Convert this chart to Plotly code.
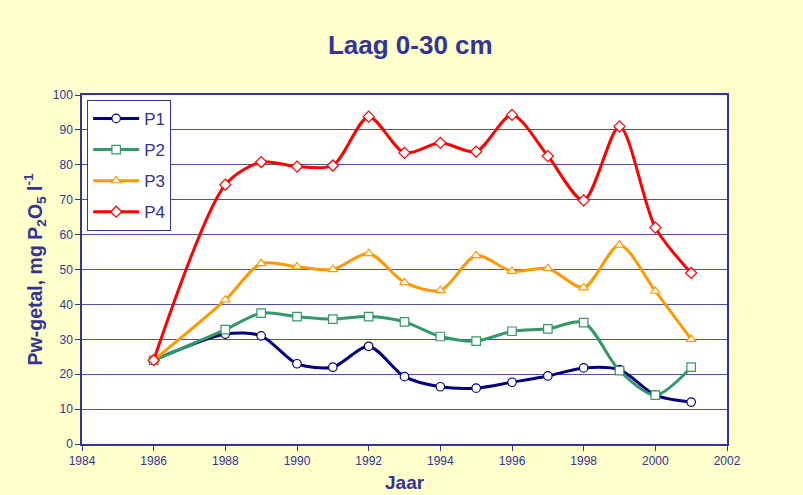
import plotly.graph_objects as go

years = [1986, 1988, 1989, 1990, 1991, 1992, 1993, 1994, 1995, 1996, 1997, 1998, 1999, 2000, 2001]
p1 = [24, 31.5, 31, 23, 22, 28, 19.3, 16.4, 16, 17.7, 19.5, 21.8, 21.3, 14, 12]
p2 = [24, 32.8, 37.5, 36.5, 35.8, 36.5, 35, 30.8, 29.5, 32.3, 33, 34.8, 21, 14, 22]
p3 = [24, 41.3, 51.7, 50.8, 50, 54.6, 46.3, 44, 54, 49.5, 50.3, 44.8, 57, 43.8, 30]
p4 = [24, 74.3, 80.8, 79.5, 79.8, 93.8, 83.4, 86.3, 83.8, 94.3, 82.5, 69.8, 91, 62, 49]

series = [
    ("P1", p1, "#000080", "circle"),
    ("P2", p2, "#339966", "square"),
    ("P3", p3, "#FF9900", "triangle-up"),
    ("P4", p4, "#FF0000", "diamond"),
]

navy = "#333399"
fig = go.Figure()
for name, vals, col, sym in series:
    fig.add_trace(go.Scatter(
        x=years, y=vals, name=name, legendgroup=name,
        mode="lines+markers",
        line=dict(color=col, width=3, shape="spline", smoothing=0.8),
        marker=dict(symbol=sym, size=8.5, color="white",
                    line=dict(color=col, width=1.2)),
    ))

fig.update_layout(
    width=803, height=495,
    paper_bgcolor="#FFFFCC", plot_bgcolor="white",
    margin=dict(l=82, r=76, t=95, b=51),
    font=dict(family="Liberation Sans, Arial, sans-serif", color=navy),
    title=dict(text="<b>Laag 0-30 cm</b>", x=0.511, xanchor="center", y=0.91, yanchor="middle",
               font=dict(size=26, color=navy)),
    showlegend=True,
    legend=dict(x=0.008, y=0.986, xanchor="left", yanchor="top",
                bgcolor="white", bordercolor=navy, borderwidth=1,
                itemwidth=46,
                font=dict(size=17, color=navy), tracegroupgap=6),
    xaxis=dict(range=[1984, 2002], dtick=2, tick0=1984, showgrid=False, automargin=False,
               ticks="outside", ticklen=5, tickcolor=navy,
               showline=True, linecolor=navy, linewidth=1.5, mirror=True,
               tickfont=dict(size=12, color=navy), zeroline=False),
    yaxis=dict(range=[0, 100], dtick=10, showgrid=True, gridcolor="#5050AA", gridwidth=1,
               automargin=False,
               ticks="outside", ticklen=5, tickcolor=navy,
               showline=True, linecolor=navy, linewidth=1.5, mirror=True,
               tickfont=dict(size=12, color=navy), zeroline=False),
    annotations=[
        dict(text="<b>Jaar</b>", xref="paper", yref="paper", x=0.5, y=-0.11,
             xanchor="center", yanchor="middle", showarrow=False,
             font=dict(size=19, color=navy)),
        dict(text="<b>Pw-getal, mg P<sub>2</sub>O<sub>5</sub> l<sup>-1</sup></b>",
             xref="paper", yref="paper", x=-0.073, y=0.5, textangle=-90,
             xanchor="center", yanchor="middle", showarrow=False,
             font=dict(size=19.5, color=navy)),
    ],
)

fig.write_html("out.html", config={"displayModeBar": False},
               post_script="document.body.style.margin='0';")
